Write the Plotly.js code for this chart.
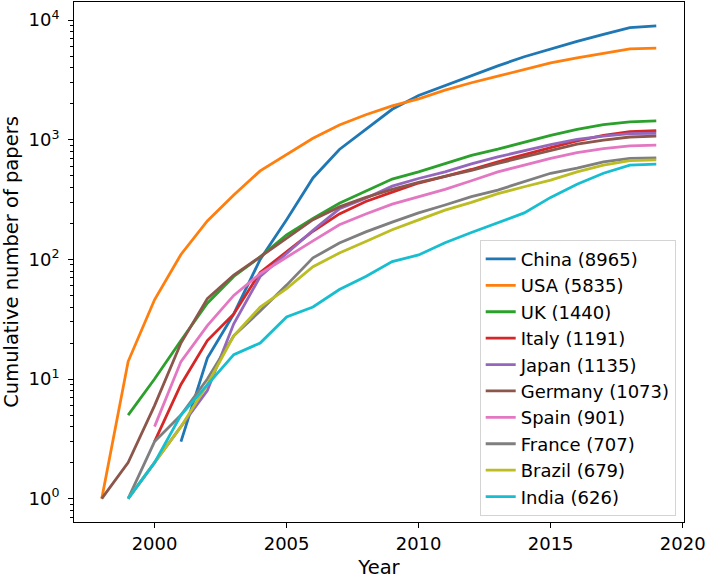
<!DOCTYPE html>
<html>
<head>
<meta charset="utf-8">
<script src="https://cdn.plot.ly/plotly-3.0.1.min.js"></script>
<style>
  body { margin: 0; background: #fff; }
  #plot { width: 706px; height: 579px; }
</style>
</head>
<body>
<div id="plot"></div>
<script>
// years on the x axis
const years = [1998, 1999, 2000, 2001, 2002, 2003, 2004, 2005, 2006, 2007, 2008,
  2009, 2010, 2011, 2012, 2013, 2014, 2015, 2016, 2017, 2018, 2019];

// cumulative papers per country (null = no papers yet)
const china   = [null, null, null, 3, 15, 35, 100, 215, 480, 830, 1230, 1800, 2350, 2850, 3450, 4150, 4950, 5750, 6650, 7600, 8650, 8965];
const usa     = [1, 14, 46, 110, 210, 345, 550, 750, 1030, 1330, 1620, 1920, 2200, 2600, 3000, 3400, 3850, 4400, 4850, 5300, 5750, 5835];
const uk      = [null, 5, 10, 21, 43, 72, 105, 160, 220, 295, 370, 470, 540, 635, 740, 835, 950, 1090, 1220, 1340, 1410, 1440];
const italy   = [null, null, 3, 9, 21, 35, 78, 115, 172, 240, 305, 365, 435, 495, 565, 655, 745, 860, 980, 1090, 1170, 1191];
const japan   = [null, 1, 2, 4, 8, 29, 72, 112, 175, 265, 325, 410, 475, 540, 630, 720, 810, 910, 1010, 1075, 1125, 1135];
const germany = [1, 2, 6, 20, 47, 74, 105, 150, 215, 275, 330, 385, 440, 495, 555, 635, 720, 820, 920, 995, 1055, 1073];
const spain   = [null, null, 4, 14, 28, 50, 76, 105, 143, 195, 240, 290, 332, 385, 455, 540, 615, 700, 780, 845, 890, 901];
const france  = [null, 1, 3, 5, 10, 23, 37, 61, 103, 137, 170, 205, 245, 285, 335, 380, 445, 525, 580, 655, 700, 707];
const brazil  = [null, 1, 2, 4, 9, 23, 40, 57, 87, 113, 141, 177, 214, 258, 300, 355, 405, 460, 540, 615, 670, 679];
const india   = [null, 1, 2, 5, 9, 16, 20, 33, 40, 56, 72, 96, 109, 138, 168, 203, 245, 330, 425, 525, 615, 626];

const countries = ['China', 'USA', 'UK', 'Italy', 'Japan', 'Germany', 'Spain', 'France', 'Brazil', 'India'];
const totals = [8965, 5835, 1440, 1191, 1135, 1073, 901, 707, 679, 626];
const series = [china, usa, uk, italy, japan, germany, spain, france, brazil, india];

const yTickVals = [1, 10, 100, 1000, 10000];
const yTickText = ['10<sup>0</sup>', '10<sup>1</sup>', '10<sup>2</sup>', '10<sup>3</sup>', '10<sup>4</sup>'];

const colors = ['#1f77b4', '#ff7f0e', '#2ca02c', '#d62728', '#9467bd',
  '#8c564b', '#e377c2', '#7f7f7f', '#bcbd22', '#17becf'];

// minor ticks 2..9 in each decade
let minorVals = [];
for (let d = 0.1; d < 20000; d *= 10) {
  for (let k = 2; k <= 9; k++) minorVals.push(Math.round(k * d * 10) / 10);
}

let data = series.map(function(s, i) {
  return {
    x: years,
    y: s,
    name: countries[i] + ' (' + totals[i] + ')',
    legendgroup: 'g' + i,
    mode: 'lines',
    type: 'scatter',
    line: {color: colors[i], width: 2.8},
    connectgaps: false
  };
});

const font = 'DejaVu Sans, sans-serif';

let layout = {
  width: 706,
  height: 579,
  margin: {l: 74, r: 22, t: 2, b: 57},
  paper_bgcolor: '#fff',
  plot_bgcolor: '#fff',
  font: {family: font, size: 18, color: '#000'},
  showlegend: true,
  legend: {
    x: 0.9864, y: 0.012, xanchor: 'right', yanchor: 'bottom',
    bordercolor: '#d4d4d4', borderwidth: 1, bgcolor: 'rgba(255,255,255,0.8)',
    font: {family: font, size: 18, color: '#000'},
    tracegroupgap: 0,
    entrywidth: 170
  },
  xaxis: {
    range: [1996.95, 2020.05],
    tickvals: [2000, 2005, 2010, 2015, 2020],
    ticks: 'outside', ticklen: 5, tickwidth: 1, tickcolor: '#000',
    tickfont: {family: font, size: 18},
    showgrid: false, zeroline: false,
    showline: true, mirror: true, linecolor: '#000', linewidth: 1,
    title: {text: 'Year', font: {family: font, size: 19.5}, standoff: 8}
  },
  yaxis: {
    type: 'log',
    range: [-0.195, 4.152],
    tickmode: 'array', tickvals: yTickVals, ticktext: yTickText,
    ticks: 'outside', ticklen: 5, tickwidth: 1, tickcolor: '#000',
    tickfont: {family: font, size: 18},
    ticklabelstandoff: 5,
    minor: {tickmode: 'array', tickvals: minorVals, ticks: 'outside', ticklen: 3, tickcolor: '#000', showgrid: false},
    showgrid: false, zeroline: false,
    showline: true, mirror: true, linecolor: '#000', linewidth: 1,
    title: {text: 'Cumulative number of papers', font: {family: font, size: 19.5}, standoff: 6}
  }
};

Plotly.newPlot('plot', data, layout, {displayModeBar: false, staticPlot: true});
</script>
</body>
</html>
